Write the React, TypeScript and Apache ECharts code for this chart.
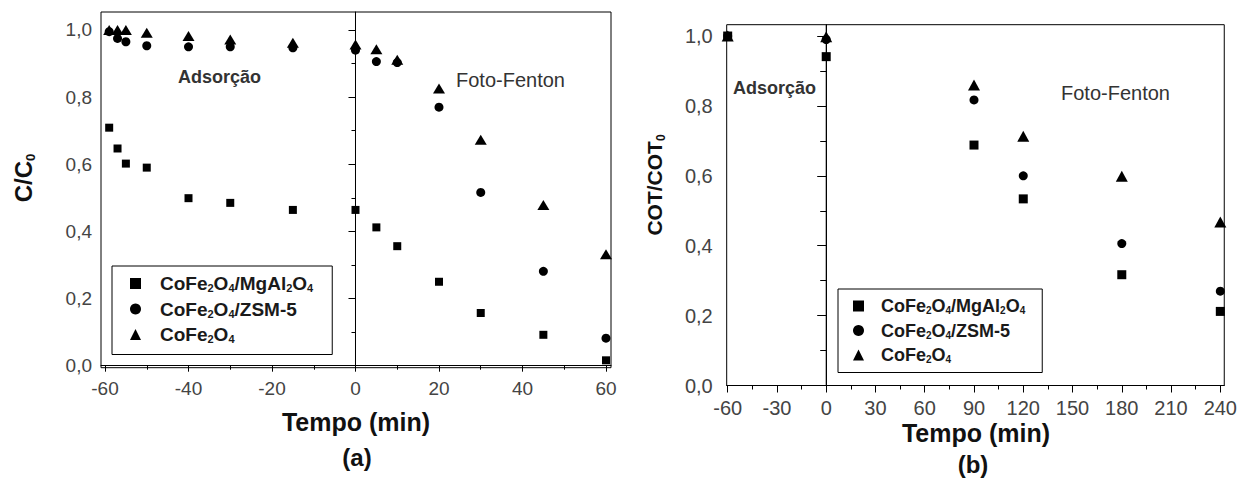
import React, { useEffect, useRef } from "react";
import * as echarts from "echarts";

// ---- Data: chart (a) C/C0 vs time ----
const timeA = [-59, -57, -55, -50, -40, -30, -15, 0, 5, 10, 20, 30, 45, 60];
const mgAlA = [0.709, 0.647, 0.602, 0.590, 0.499, 0.485, 0.464, 0.464, 0.412, 0.356, 0.250, 0.157, 0.092, 0.016];
const zsmA = [0.995, 0.975, 0.965, 0.953, 0.950, 0.950, 0.947, 0.940, 0.906, 0.903, 0.770, 0.516, 0.281, 0.082];
const pureA = [1.0, 1.0, 1.0, 0.992, 0.982, 0.972, 0.962, 0.957, 0.943, 0.911, 0.826, 0.673, 0.479, 0.332];

// ---- Data: chart (b) COT/COT0 vs time ----
const timeB = [-60, 0, 90, 120, 180, 240];
const mgAlB = [1.0, 0.941, 0.688, 0.534, 0.317, 0.212];
const zsmB = [1.0, 0.99, 0.817, 0.600, 0.406, 0.270];
const pureB = [1.0, 0.998, 0.860, 0.713, 0.599, 0.468];

// ---- Axis ranges and tick values ----
const xRangeA = [-60.96, 61.2];
const yRangeA = [-0.006, 1.0536];
const xRangeB = [-60.6, 242.4];
const yRangeB = [0, 1.0324];
const xTicksA = [-60, -40, -20, 0, 20, 40, 60];
const xMinorA = [-50, -30, -10, 10, 30, 50];
const yTicks = [0, 0.2, 0.4, 0.6, 0.8, 1.0];
const yMinor = [0.1, 0.3, 0.5, 0.7, 0.9];
const xTicksB = [-60, -30, 0, 30, 60, 90, 120, 150, 180, 210, 240];
const xMinorB = [-45, -15, 15, 45, 75, 105, 135, 165, 195, 225];
const phaseBoundary = 0; // Adsorção | Foto-Fenton

const seriesNames = ["CoFe2O4/MgAl2O4", "CoFe2O4/ZSM-5", "CoFe2O4"];
const legendRich: Record<string, string> = {
  "CoFe2O4/MgAl2O4": "{g| }{t|CoFe}{s|2}{t|O}{s|4}{t|/MgAl}{s|2}{t|O}{s|4}",
  "CoFe2O4/ZSM-5": "{g| }{t|CoFe}{s|2}{t|O}{s|4}{t|/ZSM-5}",
  "CoFe2O4": "{g| }{t|CoFe}{s|2}{t|O}{s|4}",
};

const FONT = "Liberation Sans, Arial, sans-serif";

function pair(xs: number[], ys: number[]) {
  return xs.map((x, i) => [x, ys[i]]);
}

const fmtY = (v: number) => v.toFixed(1).replace(".", ",");

export default function App() {
  const ref = useRef<HTMLDivElement>(null);
  useEffect(() => {
    if (!ref.current) return;
    const chart = echarts.init(ref.current, null, { renderer: "svg" });

    const majorX = (grid: number, r: number[], ticks: number[], len: number, margin: number, fs: number) => ({
      type: "value", gridIndex: grid, position: "bottom", offset: 0, min: r[0], max: r[1],
      axisLine: { show: true, lineStyle: { color: "#000", width: 1 } },
      axisTick: { show: true, inside: false, length: len, customValues: ticks, lineStyle: { color: "#000" } },
      axisLabel: { show: true, customValues: ticks, margin, fontSize: fs, color: "#444", fontFamily: FONT },
      splitLine: { show: false },
    });
    const minorX = (grid: number, r: number[], ticks: number[], len: number) => ({
      type: "value", gridIndex: grid, position: "bottom", offset: 0, min: r[0], max: r[1],
      axisLine: { show: false },
      axisTick: { show: true, inside: false, length: len, customValues: ticks, lineStyle: { color: "#000" } },
      axisLabel: { show: false },
      splitLine: { show: false },
    });
    const majorY = (grid: number, r: number[], len: number, margin: number, fs: number) => ({
      type: "value", gridIndex: grid, position: "left", offset: 0, min: r[0], max: r[1],
      axisLine: { show: true, lineStyle: { color: "#000", width: 1 } },
      axisTick: { show: true, inside: false, length: len, customValues: yTicks, lineStyle: { color: "#000" } },
      axisLabel: { show: true, customValues: yTicks, margin, fontSize: fs, color: "#444", fontFamily: FONT, formatter: fmtY },
      splitLine: { show: false },
    });
    const minorY = (grid: number, r: number[], len: number) => ({
      type: "value", gridIndex: grid, position: "left", offset: 0, min: r[0], max: r[1],
      axisLine: { show: false },
      axisTick: { show: true, inside: false, length: len, customValues: yMinor, lineStyle: { color: "#000" } },
      axisLabel: { show: false },
      splitLine: { show: false },
    });

    const divider = (id: string, xi: number, yr: number[]) => ({
      id, type: "line", name: "divider-" + id, xAxisIndex: xi, yAxisIndex: xi,
      data: [[phaseBoundary, yr[0]], [phaseBoundary, yr[1]]],
      symbol: "none", silent: true, z: 1,
      lineStyle: { color: "#000", width: 1, type: "solid", opacity: 1 },
      emphasis: { disabled: true },
    });

    const mk = (id: string, name: string, symbol: string, size: any, xi: number, data: number[][]) => ({
      id, type: "scatter", name, symbol, symbolSize: size, xAxisIndex: xi, yAxisIndex: xi, z: 3,
      itemStyle: { color: "#000", opacity: 1 }, data, clip: true,
    });

    const legendBase = (left: number, top: number, pad: number[], fs: number, ss: number, lh: number, g: number, iw: number) => ({
      left, top, orient: "vertical", itemWidth: iw, itemHeight: iw, itemGap: 6,
      padding: pad, borderColor: "#000", borderWidth: 1, backgroundColor: "#fff",
      selectedMode: false,
      itemStyle: { color: "#000", opacity: 1 },
      data: [
        { name: seriesNames[0], icon: "rect" },
        { name: seriesNames[1], icon: "circle" },
        { name: seriesNames[2], icon: "triangle" },
      ],
      formatter: (n: string) => legendRich[n],
      textStyle: {
        rich: {
          g: { width: g, lineHeight: lh, fontSize: fs },
          t: { fontSize: fs, fontWeight: "bold", color: "#1a1a1a", lineHeight: lh, fontFamily: FONT },
          s: { fontSize: ss, fontWeight: "bold", color: "#1a1a1a", lineHeight: 6, verticalAlign: "bottom", fontFamily: FONT },
        },
      },
    });

    const txt = (x: number, y: number, text: string, fs: number, bold: boolean, align = "left", color = "#333") => ({
      type: "text", x, y, silent: true,
      style: { text, fontSize: fs, fontWeight: bold ? "bold" : "normal", fontFamily: FONT, fill: color, align, verticalAlign: "middle" },
    });

    const yTitle = (x: number, y: number, main: string, fs: number, ss: number) => ({
      type: "text", x, y, rotation: Math.PI / 2, silent: true,
      style: {
        text: `{a|${main}}{s|0}`, align: "center", verticalAlign: "middle",
        rich: {
          a: { fontSize: fs, fontWeight: "bold", fontFamily: FONT, fill: "#111", lineHeight: fs + 4 },
          s: { fontSize: ss, fontWeight: "bold", fontFamily: FONT, fill: "#111", lineHeight: 6, verticalAlign: "bottom" },
        },
      },
    });

    const option: any = {
      animation: false,
      backgroundColor: "#fff",
      grid: [
        { left: 101, top: 12, width: 510, height: 355.7, show: true, borderColor: "#000", borderWidth: 1, backgroundColor: "transparent" },
        { left: 726.7, top: 24.7, width: 498.3, height: 360.8, show: true, borderColor: "#000", borderWidth: 1, backgroundColor: "transparent" },
      ],
      xAxis: [
        majorX(0, xRangeA, xTicksA, 6, 11, 19),
        majorX(1, xRangeB, xTicksB, 7, 12, 20),
        minorX(0, xRangeA, xMinorA, 4),
        minorX(1, xRangeB, xMinorB, 4),
      ],
      yAxis: [
        majorY(0, yRangeA, 7, 9, 19),
        majorY(1, yRangeB, 9, 14, 20),
        minorY(0, yRangeA, 4),
        minorY(1, yRangeB, 6),
      ],
      legend: [
        legendBase(112, 266, [8, 19, 10, 18], 19, 11, 20, 14, 11),
        legendBase(838, 289, [8, 17, 8, 15], 18, 10, 19, 12, 11),
      ],
      series: [
        divider("da", 0, yRangeA),
        divider("db", 1, yRangeB),
        mk("a1", seriesNames[0], "rect", 8, 0, pair(timeA, mgAlA)),
        mk("a2", seriesNames[1], "circle", 9, 0, pair(timeA, zsmA)),
        mk("a3", seriesNames[2], "triangle", [12, 10], 0, pair(timeA, pureA)),
        mk("b1", seriesNames[0], "rect", 9, 1, pair(timeB, mgAlB)),
        mk("b2", seriesNames[1], "circle", 9, 1, pair(timeB, zsmB)),
        mk("b3", seriesNames[2], "triangle", [12, 11], 1, pair(timeB, pureB)),
      ],
      graphic: [
        txt(178, 77, "Adsorção", 18, true),
        txt(456, 80, "Foto-Fenton", 20, false),
        txt(733, 88, "Adsorção", 18, true),
        txt(1061, 93, "Foto-Fenton", 20, false),
        txt(356, 422, "Tempo (min)", 25, true, "center", "#111"),
        txt(357, 457, "(a)", 24, true, "center", "#111"),
        txt(976, 433, "Tempo (min)", 25, true, "center", "#111"),
        txt(973, 464, "(b)", 24, true, "center", "#111"),
        yTitle(23, 178, "C/C", 24, 13),
        yTitle(654, 185, "COT/COT", 21, 12),
      ],
    };
    chart.setOption(option);
    return () => chart.dispose();
  }, []);
  return <div ref={ref} style={{ position: "fixed", left: 0, top: 0, width: 1240, height: 481 }} />;
}
